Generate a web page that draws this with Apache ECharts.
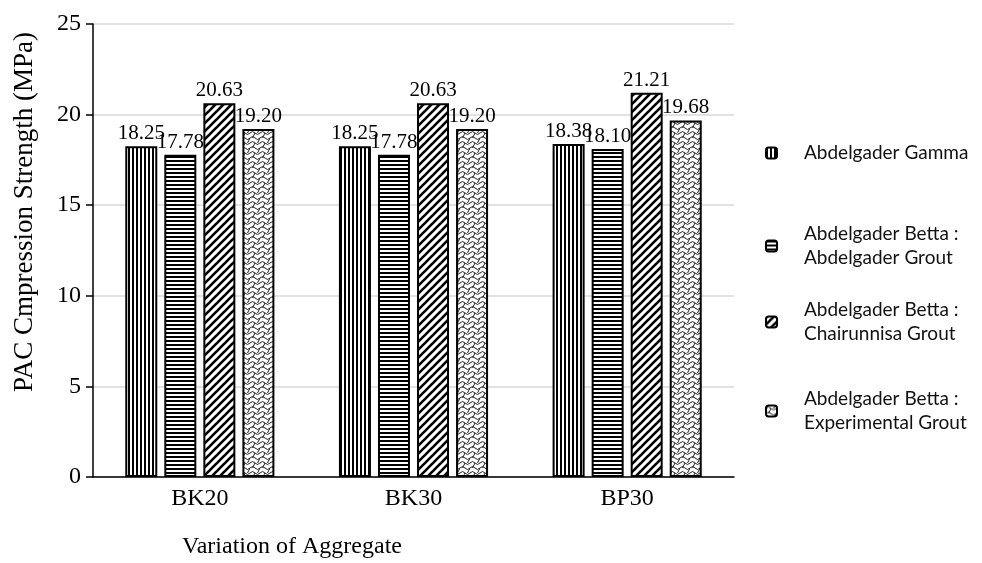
<!DOCTYPE html>
<html>
<head>
<meta charset="utf-8">
<script src="https://cdn.jsdelivr.net/npm/echarts@6/dist/echarts.min.js"></script>
<style>
html,body{margin:0;padding:0;background:#fff;}
#chart{width:982px;height:563px;}
</style>
</head>
<body>
<div id="chart"></div>
<script>
const categories = ['BK20', 'BK30', 'BP30'];
const seriesNames = [
  'Abdelgader Gamma',
  'Abdelgader Betta : Abdelgader Grout',
  'Abdelgader Betta : Chairunnisa Grout',
  'Abdelgader Betta : Experimental Grout'
];
const gammaValues = [18.25, 18.25, 18.38];
const bettaAbdelgaderValues = [17.78, 17.78, 18.10];
const bettaChairunnisaValues = [20.63, 20.63, 21.21];
const bettaExperimentalValues = [19.20, 19.20, 19.68];
const yTicks = [0, 5, 10, 15, 20, 25];
const xTitle = 'Variation of Aggregate';
const yTitle = 'PAC Cmpression Strength (MPa)';

function makeCanvas(w, h, draw) {
  const c = document.createElement('canvas');
  c.width = w; c.height = h;
  const ctx = c.getContext('2d');
  ctx.fillStyle = '#fff';
  ctx.fillRect(0, 0, w, h);
  draw(ctx);
  return c;
}
const vPattern = makeCanvas(4, 4, ctx => { ctx.fillStyle = '#000'; ctx.fillRect(0, 0, 2, 4); });
const hPattern = makeCanvas(4, 4, ctx => { ctx.fillStyle = '#000'; ctx.fillRect(0, 0, 4, 2); });
const dPattern = makeCanvas(8, 8, ctx => {
  ctx.strokeStyle = '#000'; ctx.lineWidth = 2.6;
  for (let k = -1; k <= 1; k++) {
    ctx.beginPath();
    ctx.moveTo(-2 + k * 8, 10);
    ctx.lineTo(10 + k * 8, -2);
    ctx.stroke();
  }
});
const sPattern = makeCanvas(10, 10, ctx => {
  ctx.strokeStyle = '#222'; ctx.lineWidth = 1;
  ctx.beginPath();
  ctx.moveTo(0, 3); ctx.quadraticCurveTo(2.5, 0, 5, 3); ctx.quadraticCurveTo(7.5, 6, 10, 3);
  ctx.stroke();
  ctx.beginPath();
  ctx.moveTo(0, 8); ctx.quadraticCurveTo(2.5, 5, 5, 8); ctx.quadraticCurveTo(7.5, 11, 10, 8);
  ctx.stroke();
  ctx.beginPath();
  ctx.moveTo(5, 3); ctx.lineTo(2.5, 8);
  ctx.moveTo(10, 8); ctx.lineTo(7.5, 13);
  ctx.moveTo(10, -2); ctx.lineTo(7.5, 3);
  ctx.stroke();
});
const patterns = [vPattern, hPattern, dPattern, sPattern];
const dataSets = [gammaValues, bettaAbdelgaderValues, bettaChairunnisaValues, bettaExperimentalValues];

const serif = '"Liberation Serif", "Times New Roman", serif';
const chart = echarts.init(document.getElementById('chart'), null, { renderer: 'canvas' });

const legendTops = [141, 222, 298, 387];
const option = {
  animation: false,
  backgroundColor: '#fff',
  grid: { left: 93, right: 248, top: 24, bottom: 86, containLabel: false },
  xAxis: {
    type: 'category',
    data: categories,
    axisLine: { lineStyle: { color: '#000', width: 1.5 } },
    axisTick: { show: false },
    axisLabel: { color: '#000', fontFamily: serif, fontSize: 24, margin: 10 }
  },
  yAxis: {
    type: 'value',
    min: 0, max: 25, interval: 5,
    axisLine: { show: true, lineStyle: { color: '#000', width: 1.5 } },
    axisTick: { show: true, length: 7, lineStyle: { color: '#000', width: 1.5 } },
    axisLabel: { color: '#000', fontFamily: serif, fontSize: 24, margin: 12,
      formatter: v => yTicks.includes(v) ? String(v) : '' },
    splitLine: { lineStyle: { color: '#d9d9d9', width: 1.5 } }
  },
  legend: seriesNames.map((n, i) => ({
    data: [n],
    orient: 'vertical',
    left: 765,
    top: legendTops[i],
    padding: 0,
    itemWidth: 11,
    itemHeight: 11,
    itemStyle: { borderColor: '#000', borderWidth: 2 },
    formatter: name => name.replace(' : ', ' :\n'),
    textStyle: { fontFamily: 'Lato, "Noto Sans", sans-serif', fontSize: 19, color: '#111', lineHeight: 24, padding: [0, 0, 0, 22] },
    selectedMode: false
  })),
  graphic: [
    { type: 'text', x: 292, y: 547, style: { text: xTitle, font: '24px ' + serif, fill: '#000', textAlign: 'center', textVerticalAlign: 'middle' } },
    { type: 'text', x: 25, y: 212, rotation: Math.PI / 2, style: { text: yTitle, font: '27px ' + serif, fill: '#000', textAlign: 'center', textVerticalAlign: 'middle' } }
  ],
  series: seriesNames.map((n, i) => ({
    name: n,
    type: 'bar',
    data: dataSets[i],
    barWidth: 32,
    barGap: '22%',
    itemStyle: { color: { image: patterns[i], repeat: 'repeat' }, borderColor: '#000', borderWidth: 2 },
    label: {
      show: true, position: 'top', distance: 2,
      fontFamily: serif, fontSize: 21, color: '#000',
      formatter: p => p.value.toFixed(2)
    }
  }))
};
chart.setOption(option);
</script>
</body>
</html>
